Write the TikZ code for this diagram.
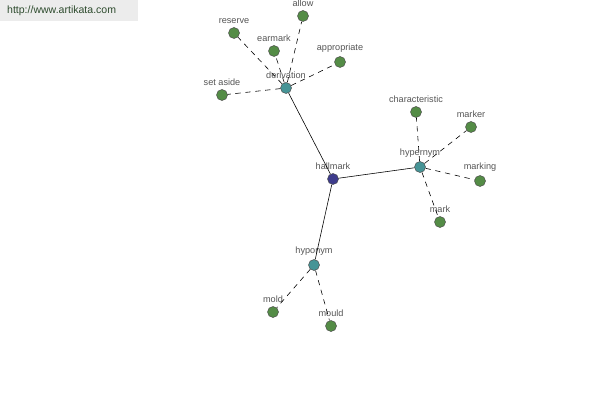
\documentclass[tikz,border=0pt]{standalone}
\usepackage{fontspec}
\setmainfont{Liberation Sans}
\usepackage{tikz}
\usetikzlibrary{arrows.meta,positioning}
\definecolor{lf}{RGB}{84,140,70}
\definecolor{tl}{RGB}{70,148,150}
\definecolor{hm}{RGB}{62,60,140}
\definecolor{tx}{RGB}{85,85,85}
\definecolor{hd}{RGB}{236,236,236}
\definecolor{ht}{RGB}{45,75,45}

\begin{document}
\begin{tikzpicture}[x=0.03cm,y=-0.03cm,
  dot/.style={circle,draw=black!70,line width=0.4pt,inner sep=0pt,minimum size=11*0.03cm,
    label distance=-1.5pt,
    label={[text=tx,font=\fontsize{7.8}{8}\selectfont]above:#1}},
  leaf/.style={dot=#1,fill=lf},
  mid/.style={dot=#1,fill=tl},
  link/.style={line width=0.5pt},
  weak/.style={line width=0.5pt,dash pattern=on 4.5pt off 4pt}]
  % frame
  \useasboundingbox (0,0) rectangle (600,400);
  \fill[white] (0,0) rectangle (600,400);

  % header
  \fill[hd] (0,0) rectangle (138,21);
  \node[anchor=west,text=ht,font=\fontsize{9}{10}\selectfont] (site) at (3,11) {http://www.artikata.com};

  % main nodes
  \node[dot=hallmark,fill=hm] (hall) at (333,179) {};
  \node[mid=derivation] (der) at (286,88) {};
  \node[mid=hypernym] (hyper) at (420,167) {};
  \node[mid=hyponym] (hypo) at (314,265) {};

  % derivation leaves
  \node[leaf=allow] (allow) at (303,16) {};
  \node[leaf=reserve] (res) at (234,33) {};
  \node[leaf=earmark] (ear) at (274,51) {};
  \node[leaf=appropriate] (appr) at (340,62) {};
  \node[leaf=set aside] (set) at (222,95) {};

  % hypernym leaves
  \node[leaf=characteristic] (char) at (416,112) {};
  \node[leaf=marker] (mkr) at (471,127) {};
  \node[leaf=marking] (mkg) at (480,181) {};
  \node[leaf=mark] (mark) at (440,222) {};

  % hyponym leaves
  \node[leaf=mold] (mold) at (273,312) {};
  \node[leaf=mould] (mould) at (331,326) {};

  % solid links
  \draw[link] (hall) -- (der);
  \draw[link] (hall) -- (hyper);
  \draw[link] (hall) -- (hypo);

  % dashed links
  \foreach \n in {allow,res,ear,appr,set}
    \draw[weak] (der) -- (\n);
  \foreach \n in {char,mkr,mkg,mark}
    \draw[weak] (hyper) -- (\n);
  \foreach \n in {mold,mould}
    \draw[weak] (hypo) -- (\n);
\end{tikzpicture}
\end{document}
